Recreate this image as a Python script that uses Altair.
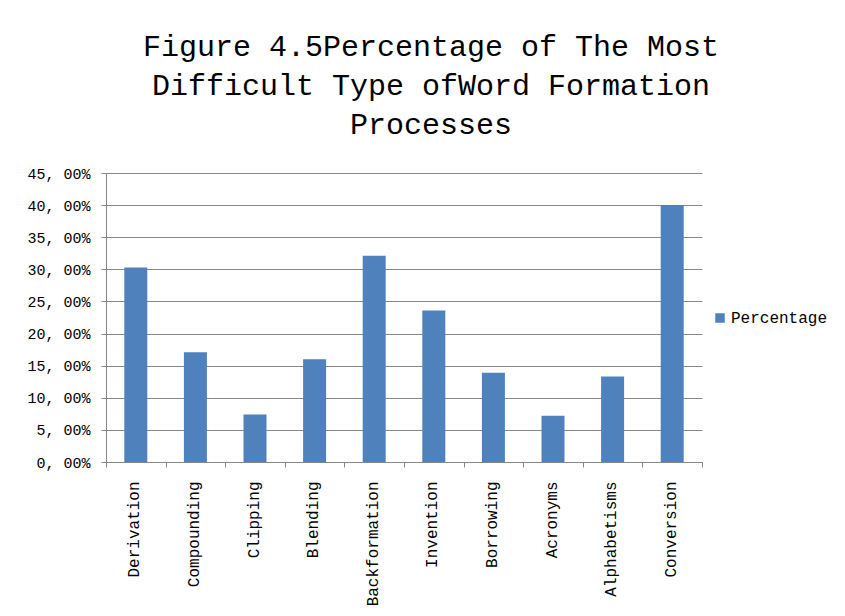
import altair as alt
import pandas as pd

categories = ["Derivation", "Compounding", "Clipping", "Blending", "Backformation",
              "Invention", "Borrowing", "Acronyms", "Alphabetisms", "Conversion"]
values = [30.3, 17.1, 7.4, 16.0, 32.1, 23.6, 13.9, 7.2, 13.3, 40.0]
series = ["Percentage"] * len(categories)
y_ticks = [0, 5, 10, 15, 20, 25, 30, 35, 40, 45]

df = pd.DataFrame({"category": categories, "value": [v / 100 for v in values], "series": series})

FONT = "Liberation Mono"
GRID = "#878787"

chart = alt.Chart(df).mark_bar(size=23, color="#4F81BD").encode(
    x=alt.X("category:N", sort=categories, title=None,
            scale=alt.Scale(paddingInner=0, paddingOuter=0),
            axis=alt.Axis(labelAngle=270, labelAlign="right", labelBaseline="middle",
                          labelFont=FONT, labelFontSize=16, labelColor="#000000",
                          labelPadding=14, tickBand="extent", tickSize=5,
                          tickColor=GRID, domainColor=GRID, grid=False, labelOffset=-2)),
    y=alt.Y("value:Q", title=None,
            scale=alt.Scale(domain=[0, 0.45], nice=False),
            axis=alt.Axis(values=[t / 100 for t in y_ticks],
                          labelExpr="replace(format(datum.value, '.2%'), '.', ', ')",
                          labelFont=FONT, labelFontSize=15, labelColor="#000000",
                          labelPadding=11, tickSize=5, tickColor=GRID,
                          domainColor=GRID, gridColor=GRID, gridOpacity=1)),
    fill=alt.Fill("series:N", scale=alt.Scale(range=["#4F81BD"]),
                  legend=alt.Legend(title=None, orient="none", legendX=606, legendY=137,
                                    symbolType="square", symbolSize=90,
                                    symbolStrokeWidth=0,
                                    labelFont=FONT, labelFontSize=16,
                                    labelColor="#000000", labelOffset=3)),
).properties(
    width=596,
    height=289,
    title=alt.TitleParams(
        text=["Figure 4.5Percentage of The Most", "Difficult Type ofWord Formation", "Processes"],
        font=FONT, fontSize=30, fontWeight="normal", color="#000000",
        lineHeight=39, anchor="middle", dx=27, offset=26),
    autosize=alt.AutoSizeParams(type="none"),
    padding={"left": 98, "top": 165, "right": 135, "bottom": 145},
).configure_view(strokeWidth=0)

chart.save("out.html", embed_options={"renderer": "svg", "actions": False})
